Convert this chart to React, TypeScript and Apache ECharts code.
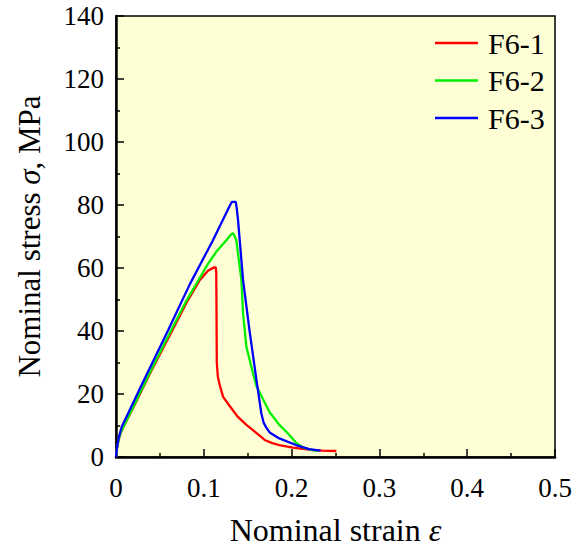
import React, { useEffect, useRef } from "react";
import * as echarts from "echarts";

const seriesNames = ["F6-1", "F6-2", "F6-3"];
const seriesColors = ["#ff0000", "#00f000", "#0000ff"];

const f61: number[][] = [
  [0, 0], [0.001, 2.5], [0.003, 5.5], [0.0055, 7.8], [0.0085, 9.6], [0.012, 11.5],
  [0.02, 15.9], [0.04, 27.2], [0.0644, 40.3], [0.08, 48.8], [0.0955, 56.2],
  [0.105, 59.2], [0.112, 60.2], [0.1136, 60.2], [0.1142, 58.5], [0.1145, 45],
  [0.1148, 30], [0.116, 25.5], [0.118, 23], [0.122, 19.1], [0.1295, 16.2],
  [0.138, 13.0], [0.1485, 10.2], [0.156, 8.5], [0.1636, 6.8], [0.17, 5.3],
  [0.178, 4.4], [0.186, 3.8], [0.2015, 3.0], [0.224, 2.2], [0.235, 2.0], [0.251, 1.9],
];

const f62: number[][] = [
  [0, 0], [0.001, 2.5], [0.003, 5.5], [0.0055, 7.8], [0.0085, 9.6], [0.012, 11.6],
  [0.02, 16.1], [0.04, 27.6], [0.063, 40.3], [0.08, 49.5], [0.094, 56.2],
  [0.104, 61], [0.1144, 65.2], [0.125, 68.6], [0.1315, 70.8], [0.1335, 71],
  [0.1345, 70.5], [0.137, 68.9], [0.1428, 56.2], [0.1447, 45.6], [0.1485, 35],
  [0.156, 26.6], [0.16, 22.5], [0.167, 18.6], [0.175, 14.2], [0.186, 10.2],
  [0.194, 8.0], [0.2, 6.2], [0.205, 4.5], [0.213, 3.0], [0.224, 2.2], [0.23, 1.9],
];

const f63: number[][] = [
  [0, 0], [0.001, 2.8], [0.003, 6.0], [0.0065, 9.6], [0.012, 12.8], [0.03, 23.3],
  [0.0595, 40.3], [0.084, 54.8], [0.11, 68.6], [0.13, 80], [0.132, 81],
  [0.1364, 81], [0.1375, 79], [0.139, 75.2], [0.1447, 56.2], [0.152, 40.3],
  [0.16, 24.4], [0.1655, 13.9], [0.168, 11.0], [0.171, 9.4], [0.175, 7.8],
  [0.186, 5.9], [0.205, 3.8], [0.22, 2.5], [0.233, 2.0],
];

const seriesData = [f61, f62, f63];

const xMin = 0, xMax = 0.5, xStep = 0.1;
const yMin = 0, yMax = 140, yStep = 20;

const FONT = "Times New Roman, Liberation Serif, DejaVu Serif, serif";

export default function App() {
  const ref = useRef<HTMLDivElement>(null);
  useEffect(() => {
    if (!ref.current) return;
    const chart = echarts.init(ref.current, undefined, { renderer: "svg" });
    const axisCommon = {
      axisLine: { show: true, lineStyle: { color: "#000", width: 2.5 } },
      axisTick: { show: true, inside: true, length: 8, lineStyle: { color: "#000", width: 1.5 } },
      minorTick: { show: true, splitNumber: 2, length: 4, lineStyle: { color: "#000", width: 1.5 } },
      splitLine: { show: false },
      axisLabel: { color: "#000", fontFamily: FONT, fontSize: 27 },
      nameLocation: "middle" as const,
    };
    chart.setOption({
      animation: false,
      backgroundColor: "#ffffff",
      textStyle: { fontFamily: FONT },
      grid: {
        left: 116, right: 18, top: 16, bottom: 90,
        outerBoundsMode: "none",
        containLabel: false,
        show: true, backgroundColor: "#ffffd5", borderColor: "#000", borderWidth: 1.5,
      },
      legend: {
        orient: "vertical",
        left: 430, top: 23,
        icon: "rect",
        itemWidth: 43, itemHeight: 2.5, itemGap: 7.5,
        data: seriesNames,
        textStyle: { color: "#000", fontFamily: FONT, fontSize: 30, lineHeight: 30, padding: [0, 0, 0, 5] },
      },
      xAxis: {
        ...axisCommon,
        type: "value", min: xMin, max: xMax, interval: xStep,
        axisLabel: { ...axisCommon.axisLabel, margin: 17 },
        name: "Nominal strain {i|ε}",
        nameGap: 57,
        nameTextStyle: {
          color: "#000", fontFamily: FONT, fontSize: 32,
          rich: { i: { fontFamily: FONT, fontSize: 32, fontStyle: "italic", color: "#000" } },
        },
      },
      yAxis: {
        ...axisCommon,
        type: "value", min: yMin, max: yMax, interval: yStep,
        axisLabel: { ...axisCommon.axisLabel, margin: 12 },
        name: "Nominal stress {i|σ}, MPa",
        nameGap: 71,
        nameTextStyle: {
          color: "#000", fontFamily: FONT, fontSize: 31,
          rich: { i: { fontFamily: FONT, fontSize: 31, fontStyle: "italic", color: "#000" } },
        },
      },
      series: seriesNames.map((n, i) => ({
        name: n,
        type: "line",
        data: seriesData[i],
        showSymbol: false,
        symbol: "none",
        smooth: false,
        color: seriesColors[i],
        lineStyle: { color: seriesColors[i], width: 2.3 },
      })),
    });
    return () => chart.dispose();
  }, []);
  return <div ref={ref} style={{ position: "fixed", left: 0, top: 0, width: 573, height: 547 }} />;
}
